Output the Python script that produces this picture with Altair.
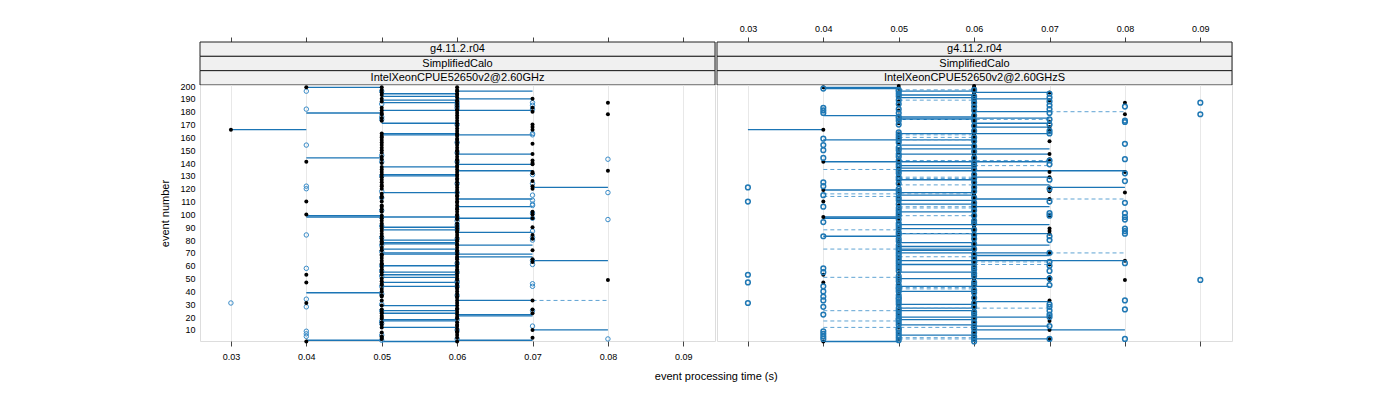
import altair as alt
import pandas as pd

X_TICKS = [0.03, 0.04, 0.05, 0.06, 0.07, 0.08, 0.09]
Y_TICKS = list(range(10, 201, 10))
STRIPS_LEFT = ["g4.11.2.r04", "SimplifiedCalo", "IntelXeonCPUE52650v2@2.60GHz"]
STRIPS_RIGHT = ["g4.11.2.r04", "SimplifiedCalo", "IntelXeonCPUE52650v2@2.60GHzS"]
X_TITLE = "event processing time (s)"
Y_TITLE = "event number"

# ---- left panel: event numbers found in each time column ----
L_BLACK = {
    0.03: [166],
    0.04: [1, 31, 47, 53, 100, 110, 141, 199],
    0.05: [3, 4, 5, 8, 12, 14, 16, 19, 20, 21, 23, 24, 26, 29, 33, 36, 37, 40, 42, 45, 46, 48, 50, 53, 55, 57,
           59, 61, 62, 64, 66, 68, 69, 72, 74, 77, 78, 79, 81, 83, 85, 87, 89, 91, 93, 95, 97, 99, 102, 104, 106,
           107, 110, 113, 114, 116, 120, 122, 123, 125, 127, 129, 131, 133, 135, 137, 140, 143, 145, 148, 150,
           152, 154, 156, 158, 160, 161, 163, 173, 175, 178, 179, 181, 183, 188, 190, 193, 195, 197, 199],
    0.06: [1, 4, 6, 8, 9, 11, 13, 14, 16, 19, 20, 22, 24, 26, 27, 29, 31, 33, 35, 36, 38, 40, 42, 43, 45, 46, 49,
           50, 52, 54, 56, 57, 59, 61, 63, 65, 66, 67, 69, 71, 72, 74, 76, 77, 79, 80, 82, 84, 86, 87, 89, 91, 93,
           96, 97, 99, 100, 102, 104, 105, 107, 109, 110, 112, 114, 115, 117, 119, 121, 123, 125, 127, 128, 130,
           131, 133, 135, 137, 138, 140, 142, 143, 145, 147, 149, 150, 152, 154, 156, 158, 159, 161, 162, 163,
           165, 167, 169, 171, 173, 175, 177, 179, 181, 182, 184, 186, 188, 189, 191, 193, 194, 196, 197, 199],
    0.07: [4, 10, 23, 26, 33, 63, 65, 72, 81, 84, 90, 97, 100, 102, 120, 122, 126, 132, 133, 139, 140, 142, 147,
           155, 166, 168, 170, 180, 183, 190],
    0.08: [49, 134, 178, 187],
}
L_BLUE = {
    0.03: [31],
    0.04: [5, 7, 9, 28, 34, 58, 84, 120, 122, 154, 182, 196],
    0.05: [2, 6, 15, 17, 25, 30, 38, 44, 52, 56, 60, 71, 76, 82, 91, 98, 103, 113, 118, 130, 141, 146, 174, 176,
           186, 196],
    0.06: [3, 10, 18, 37, 44, 47, 48, 55, 62, 70, 81, 88, 90, 92, 95, 98, 117, 124, 141, 148, 156, 170, 183, 185,
           187],
    0.07: [13, 25, 44, 46, 61, 64, 80, 82, 87, 97, 101, 107, 108, 111, 115, 124, 131, 162, 163, 182, 185, 187],
    0.08: [3, 96, 117, 143],
}
# (event, from time, to time)
L_SEG_SOLID = [
    (199, 0.04, 0.05), (196, 0.06, 0.07), (194, 0.05, 0.06), (192, 0.05, 0.06), (190, 0.06, 0.07),
    (189, 0.05, 0.06), (187, 0.05, 0.06), (181, 0.05, 0.07), (179, 0.04, 0.05), (171, 0.05, 0.06),
    (166, 0.03, 0.04), (163, 0.05, 0.06), (162, 0.05, 0.07), (147, 0.06, 0.07), (144, 0.04, 0.05),
    (139, 0.06, 0.07), (137, 0.05, 0.06), (134, 0.06, 0.07), (131, 0.05, 0.06), (130, 0.05, 0.06),
    (121, 0.07, 0.08), (117, 0.05, 0.06), (112, 0.06, 0.07), (106, 0.06, 0.07), (99, 0.04, 0.05),
    (98, 0.04, 0.06), (97, 0.06, 0.07), (90, 0.05, 0.06), (88, 0.05, 0.06), (86, 0.06, 0.07),
    (80, 0.05, 0.06), (78, 0.05, 0.06), (77, 0.05, 0.06), (76, 0.06, 0.07), (73, 0.05, 0.06),
    (70, 0.05, 0.06), (69, 0.05, 0.07), (67, 0.06, 0.07), (64, 0.07, 0.08), (60, 0.05, 0.06),
    (55, 0.05, 0.06), (53, 0.05, 0.06), (51, 0.05, 0.06), (47, 0.05, 0.06), (44, 0.05, 0.06),
    (39, 0.04, 0.05), (33, 0.06, 0.07), (29, 0.05, 0.06), (25, 0.05, 0.06), (23, 0.05, 0.06),
    (22, 0.06, 0.07), (21, 0.06, 0.07), (18, 0.05, 0.06), (17, 0.05, 0.06), (12, 0.05, 0.06),
    (10, 0.07, 0.08), (2, 0.06, 0.07), (2, 0.04, 0.05), (1, 0.05, 0.06),
]
L_SEG_DASHED = [(33, 0.07, 0.08)]

# ---- right panel ----
R_BLACK = {
    0.04: [1, 47, 53, 98, 110, 119, 141, 166, 199],
    0.05: [3, 7, 12, 15, 20, 22, 26, 29, 33, 38, 41, 46, 49, 51, 54, 57, 61, 65, 67, 71, 75, 78, 80, 83, 85, 87,
           90, 94, 97, 100, 104, 107, 110, 114, 117, 119, 123, 126, 130, 133, 136, 140, 143, 148, 151, 155, 159,
           161, 163, 171, 174, 177, 181, 185, 188, 191, 195, 198, 200],
    0.06: [2, 4, 6, 7, 9, 10, 12, 14, 15, 17, 18, 20, 21, 23, 25, 26, 27, 29, 30, 32, 33, 34, 36, 37, 38, 40, 42,
           43, 44, 46, 48, 49, 50, 51, 53, 55, 56, 58, 60, 61, 62, 64, 65, 67, 68, 70, 71, 72, 74, 75, 76, 78, 79,
           80, 82, 83, 85, 86, 87, 89, 90, 91, 92, 94, 96, 97, 98, 100, 101, 102, 104, 105, 107, 108, 110, 111,
           112, 114, 115, 116, 117, 119, 120, 122, 123, 124, 126, 127, 129, 130, 132, 133, 134, 136, 137, 139,
           141, 142, 143, 145, 146, 147, 148, 150, 151, 152, 154, 155, 156, 158, 159, 161, 162, 163, 164, 166,
           167, 168, 170, 171, 172, 174, 175, 176, 178, 179, 180, 182, 183, 185, 186, 188, 189, 191, 193, 194,
           195, 196, 198, 199, 200],
    0.07: [3, 10, 17, 20, 33, 49, 51, 61, 70, 85, 87, 89, 99, 112, 118, 121, 129, 133, 143, 147, 157, 164, 166,
           168, 172, 189, 195],
    0.08: [49, 64, 117, 133, 178, 187],
}
R_BLUE = {
    0.03: [31, 47, 53, 110, 121],
    0.04: [3, 5, 7, 9, 22, 28, 33, 36, 40, 44, 55, 58, 83, 94, 106, 115, 122, 125, 144, 150, 154, 159, 179, 181,
           183, 198],
    0.05: [2, 4, 6, 8, 10, 11, 14, 16, 18, 19, 21, 23, 25, 27, 30, 32, 34, 35, 37, 40, 42, 43, 45, 48, 50, 52, 56,
           58, 60, 62, 64, 66, 68, 70, 72, 74, 76, 79, 81, 84, 86, 89, 91, 93, 96, 99, 101, 103, 105, 108, 111,
           113, 116, 118, 120, 124, 127, 129, 132, 134, 137, 139, 142, 145, 147, 150, 152, 156, 158, 160, 162,
           164, 170, 173, 175, 176, 179, 182, 186, 189, 192, 194, 196, 197],
    0.06: [1, 3, 5, 8, 11, 13, 16, 19, 22, 24, 28, 31, 35, 39, 41, 45, 47, 52, 54, 57, 59, 63, 66, 69, 73, 77, 81,
           84, 88, 93, 95, 99, 103, 106, 109, 113, 118, 121, 125, 128, 131, 135, 138, 140, 144, 149, 153, 157,
           160, 165, 169, 173, 177, 181, 184, 187, 190, 192, 197],
    0.07: [3, 13, 20, 22, 25, 28, 30, 45, 50, 56, 60, 63, 70, 80, 83, 99, 101, 110, 120, 127, 139, 142, 163, 165,
           170, 174, 179, 182, 185, 188, 191, 194],
    0.08: [3, 26, 33, 62, 85, 87, 89, 96, 98, 101, 109, 126, 132, 143, 155, 172, 173, 184],
    0.09: [49, 178, 187],
}
R_SEG_SOLID = [
    (199, 0.04, 0.05), (198, 0.04, 0.05), (196, 0.05, 0.06), (195, 0.06, 0.07), (193, 0.05, 0.06),
    (191, 0.05, 0.06), (190, 0.06, 0.07), (180, 0.06, 0.07), (177, 0.04, 0.05), (176, 0.05, 0.06),
    (175, 0.05, 0.07), (174, 0.05, 0.06), (171, 0.06, 0.07), (168, 0.06, 0.07), (166, 0.03, 0.04),
    (163, 0.05, 0.07), (158, 0.04, 0.06), (154, 0.05, 0.06), (151, 0.05, 0.07), (147, 0.05, 0.07),
    (141, 0.04, 0.07), (138, 0.05, 0.06), (136, 0.05, 0.06), (134, 0.05, 0.08), (129, 0.06, 0.07),
    (127, 0.05, 0.06), (123, 0.06, 0.07), (121, 0.07, 0.08), (119, 0.04, 0.05), (117, 0.05, 0.06),
    (115, 0.05, 0.06), (112, 0.06, 0.07), (111, 0.05, 0.06), (108, 0.05, 0.06), (106, 0.06, 0.07),
    (102, 0.05, 0.06), (98, 0.04, 0.05), (97, 0.04, 0.05), (92, 0.05, 0.07), (89, 0.05, 0.06),
    (85, 0.05, 0.07), (83, 0.04, 0.05), (78, 0.05, 0.06), (76, 0.06, 0.07), (75, 0.05, 0.06),
    (73, 0.05, 0.06), (72, 0.05, 0.06), (70, 0.05, 0.07), (68, 0.06, 0.07), (64, 0.05, 0.08),
    (61, 0.05, 0.06), (55, 0.05, 0.06), (50, 0.05, 0.07), (44, 0.05, 0.07), (40, 0.05, 0.06),
    (32, 0.06, 0.07), (30, 0.05, 0.06), (27, 0.05, 0.06), (25, 0.05, 0.06), (20, 0.05, 0.07),
    (18, 0.05, 0.06), (14, 0.05, 0.06), (13, 0.06, 0.07), (10, 0.06, 0.08), (6, 0.05, 0.06),
    (3, 0.06, 0.07), (1, 0.04, 0.05),
]
R_SEG_DASHED = [
    (197, 0.05, 0.06), (196, 0.05, 0.06), (189, 0.05, 0.06), (180, 0.07, 0.08), (174, 0.05, 0.07),
    (162, 0.05, 0.06), (160, 0.05, 0.06), (158, 0.05, 0.06), (142, 0.05, 0.07), (138, 0.06, 0.07),
    (135, 0.04, 0.05), (129, 0.05, 0.06), (128, 0.05, 0.06), (123, 0.05, 0.06), (116, 0.04, 0.06),
    (114, 0.04, 0.05), (112, 0.07, 0.08), (106, 0.05, 0.06), (105, 0.05, 0.06), (99, 0.05, 0.06),
    (88, 0.04, 0.05), (85, 0.05, 0.06), (73, 0.04, 0.05), (70, 0.07, 0.08), (67, 0.05, 0.06),
    (63, 0.06, 0.07), (61, 0.06, 0.07), (51, 0.04, 0.05), (43, 0.05, 0.06), (42, 0.05, 0.06),
    (27, 0.05, 0.07), (25, 0.04, 0.05), (17, 0.04, 0.05), (12, 0.04, 0.06), (4, 0.05, 0.06),
    (3, 0.05, 0.06),
]

X_DOMAIN = [0.0259, 0.0942]
Y_DOMAIN = [1.4, 200.8]
FONT = "Liberation Sans"
W, H, SH = 515, 256, 43


def points_df(cols):
    rows = []
    for t, evs in cols.items():
        for e in evs:
            rows.append({"time": t, "event": e})
    return pd.DataFrame(rows)


def seg_df(segs):
    return pd.DataFrame(segs, columns=["event", "x1", "x2"])


def xscale():
    return alt.Scale(domain=X_DOMAIN, nice=False, zero=False)


def main_panel(black, blue, solid, dashed, left):
    xs = xscale()
    ys = alt.Scale(domain=Y_DOMAIN, nice=False, zero=False)
    xaxis = alt.Axis(values=X_TICKS, format=".2f", tickSize=5, labelPadding=6, labelFontSize=9,
                     labelOpacity=1 if left else 0, grid=True, gridColor="#e8e8e8", domain=False,
                     tickColor="#444", title="")
    if left:
        yaxis = alt.Axis(values=Y_TICKS, ticks=False, labelPadding=5, labelFontSize=9, domain=False,
                         grid=False, title=Y_TITLE, titleFontSize=11, titleFontWeight="normal",
                         titlePadding=9)
    else:
        yaxis = None
    base_y = alt.Y("event:Q", scale=ys, axis=yaxis)
    l_solid = alt.Chart(seg_df(solid)).mark_rule(color="#1b75b5", strokeWidth=1.3).encode(
        x=alt.X("x1:Q", scale=xs, axis=xaxis), x2="x2:Q", y=base_y)
    l_dash = alt.Chart(seg_df(dashed)).mark_rule(color="#5fa3d3", strokeWidth=1, strokeDash=[4, 3]).encode(
        x=alt.X("x1:Q", scale=xs, axis=xaxis), x2="x2:Q", y=base_y)
    l_blue = alt.Chart(points_df(blue)).mark_point(
        shape="circle", filled=False, color="#3a8cc8" if left else "#1f78b4",
        size=20 if left else 22, strokeWidth=1 if left else 1.5, opacity=1).encode(
        x=alt.X("time:Q", scale=xs, axis=xaxis), y=base_y)
    l_black = alt.Chart(points_df(black)).mark_circle(color="#000000", size=16, opacity=1).encode(
        x=alt.X("time:Q", scale=xs, axis=xaxis), y=base_y)
    if left:
        layers = [l_solid, l_dash, l_blue, l_black]
    else:
        layers = [l_solid, l_dash, l_black, l_blue]
    return alt.layer(*layers).properties(width=W, height=H)


def strip_panel(labels, left):
    df = pd.DataFrame({"label": labels, "r0": [0, 1, 2], "r1": [1, 2, 3], "rm": [0.5, 1.5, 2.5],
                       "xmin": [X_DOMAIN[0]] * 3, "xmax": [X_DOMAIN[1]] * 3})
    xs = xscale()
    ys = alt.Scale(domain=[0, 3], reverse=True, nice=False, zero=False)
    topaxis = alt.Axis(orient="top", values=X_TICKS, format=".2f", tickSize=5, labelPadding=4,
                       labelFontSize=9, labelOpacity=0 if left else 1, domain=False, grid=False,
                       tickColor="#444", title="")
    rect = alt.Chart(df).mark_rect(fill="#f0f0f0", stroke="#222", strokeWidth=1).encode(
        x=alt.X("xmin:Q", scale=xs, axis=topaxis), x2="xmax:Q",
        y=alt.Y("r0:Q", scale=ys, axis=None), y2="r1:Q")
    text = alt.Chart(df).mark_text(fontSize=11, font=FONT, baseline="middle", align="center",
                                   color="#000").encode(
        x=alt.value(W / 2), y=alt.Y("rm:Q", scale=ys, axis=None), text="label:N")
    return alt.layer(rect, text).properties(width=W, height=SH)


left = alt.vconcat(strip_panel(STRIPS_LEFT, True),
                   main_panel(L_BLACK, L_BLUE, L_SEG_SOLID, L_SEG_DASHED, True),
                   spacing=0, bounds="flush")
right = alt.vconcat(strip_panel(STRIPS_RIGHT, False),
                    main_panel(R_BLACK, R_BLUE, R_SEG_SOLID, R_SEG_DASHED, False),
                    spacing=0, bounds="flush")

chart = alt.hconcat(left, right, spacing=0).properties(
    padding={"left": 151, "top": 15, "right": 5, "bottom": 5},
    title=alt.TitleParams(X_TITLE, orient="bottom", anchor="middle", fontSize=11, fontWeight="normal",
                          font=FONT, offset=9, dx=20, color="#000"),
).configure_view(stroke="#333", strokeWidth=1).configure(font=FONT)

chart.save("out.html", embed_options={"renderer": "svg", "actions": False})
